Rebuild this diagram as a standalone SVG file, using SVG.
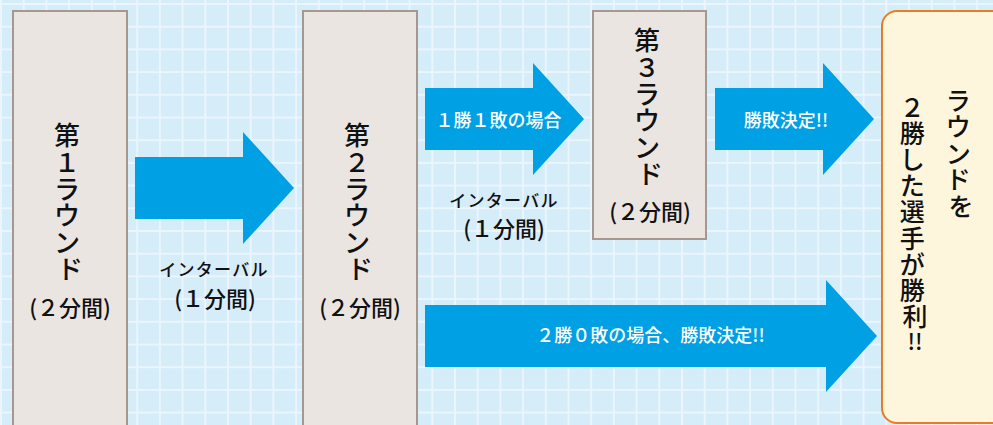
<svg xmlns="http://www.w3.org/2000/svg" width="993" height="425" viewBox="0 0 993 425">
  <defs>
    <pattern id="grid" patternUnits="userSpaceOnUse" x="0" y="3" width="22.7" height="22.7">
      <rect width="22.7" height="22.7" fill="#d5ecf9"/>
      <rect x="0" y="0" width="2" height="22.7" fill="#eaf5fd"/>
      <rect x="0" y="0" width="22.7" height="2" fill="#eaf5fd"/>
    </pattern>
  </defs>
  <style>
    text { font-family: "Noto Sans CJK JP", "Noto Sans", sans-serif; font-weight: 500; }
    .round { fill: #ebe5e2; stroke: #a69790; stroke-width: 2; }
    .goal { fill: #fef5dd; stroke: #eb7b22; stroke-width: 2; }
    .arrow { fill: #00a0e4; }
    .vt { font-size: 26px; fill: #111; text-anchor: middle; }
    .gt { font-size: 25px; fill: #111; text-anchor: middle; }
    .dur { font-size: 22px; fill: #111; text-anchor: middle; }
    .itv { font-size: 17px; fill: #111; text-anchor: middle; letter-spacing: 1.3px; }
    .wt { font-size: 18px; fill: #ffffff; text-anchor: middle; }
  </style>

  <rect x="0" y="0" width="993" height="425" fill="url(#grid)"/>

  <g id="connectors">
    <polygon class="arrow" points="135,157 243,157 243,132 294,188 243,244 243,219 135,219"/>
    <polygon class="arrow" points="425,88 533,88 533,63 584,119 533,175 533,150 425,150"/>
    <polygon class="arrow" points="715,88 823,88 823,63 874,119 823,175 823,150 715,150"/>
    <polygon class="arrow" points="425,305 826,305 826,280 877,336 826,392 826,367 425,367"/>
    <text class="itv" x="214" y="275.5">インターバル</text>
    <text class="dur" x="215" y="306.5">(１分間)</text>
    <text class="wt" x="498.5" y="126.8">１勝１敗の場合</text>
    <text class="itv" x="504" y="207">インターバル</text>
    <text class="dur" x="504" y="236.5">(１分間)</text>
    <text class="wt" x="786" y="126.8">勝敗決定!!</text>
    <text class="wt" x="650.5" y="341.8">２勝０敗の場合、勝敗決定!!</text>
  </g>

  <g id="round1">
    <rect class="round" x="13" y="11" width="114" height="430"/>
    <text class="vt">
      <tspan x="70" y="145">第</tspan>
      <tspan x="70" y="171.8">１</tspan>
      <tspan x="70" y="198.6">ラ</tspan>
      <tspan x="70" y="225.4">ウ</tspan>
      <tspan x="70" y="252.2">ン</tspan>
      <tspan x="70" y="279">ド</tspan>
    </text>
    <text class="dur" x="70" y="315.5">(２分間)</text>
  </g>

  <g id="round2">
    <rect class="round" x="303" y="11" width="114" height="430"/>
    <text class="vt">
      <tspan x="360" y="145">第</tspan>
      <tspan x="360" y="171.8">２</tspan>
      <tspan x="360" y="198.6">ラ</tspan>
      <tspan x="360" y="225.4">ウ</tspan>
      <tspan x="360" y="252.2">ン</tspan>
      <tspan x="360" y="279">ド</tspan>
    </text>
    <text class="dur" x="360" y="315.5">(２分間)</text>
  </g>

  <g id="round3">
    <rect class="round" x="593" y="11" width="113" height="228"/>
    <text class="vt">
      <tspan x="650" y="50">第</tspan>
      <tspan x="650" y="76.8">３</tspan>
      <tspan x="650" y="103.6">ラ</tspan>
      <tspan x="650" y="130.4">ウ</tspan>
      <tspan x="650" y="157.2">ン</tspan>
      <tspan x="650" y="184">ド</tspan>
    </text>
    <text class="dur" x="650" y="219.5">(２分間)</text>
  </g>

  <g id="winner">
    <rect class="goal" x="882" y="11" width="140" height="412" rx="15" ry="15"/>
    <text class="gt">
      <tspan x="961" y="109.5">ラ</tspan>
      <tspan x="961" y="136.1">ウ</tspan>
      <tspan x="961" y="162.7">ン</tspan>
      <tspan x="961" y="189.3">ド</tspan>
      <tspan x="961" y="215.9">を</tspan>
    </text>
    <text class="gt">
      <tspan x="915" y="116.5">２</tspan>
      <tspan x="915" y="142.7">勝</tspan>
      <tspan x="915" y="168.9">し</tspan>
      <tspan x="915" y="195.1">た</tspan>
      <tspan x="915" y="221.3">選</tspan>
      <tspan x="915" y="247.5">手</tspan>
      <tspan x="915" y="273.7">が</tspan>
      <tspan x="915" y="299.9">勝</tspan>
      <tspan x="915" y="326.1">利</tspan>
    </text>
    <text class="gt" x="915" y="350" style="font-size:22px">!!</text>
  </g>
</svg>
